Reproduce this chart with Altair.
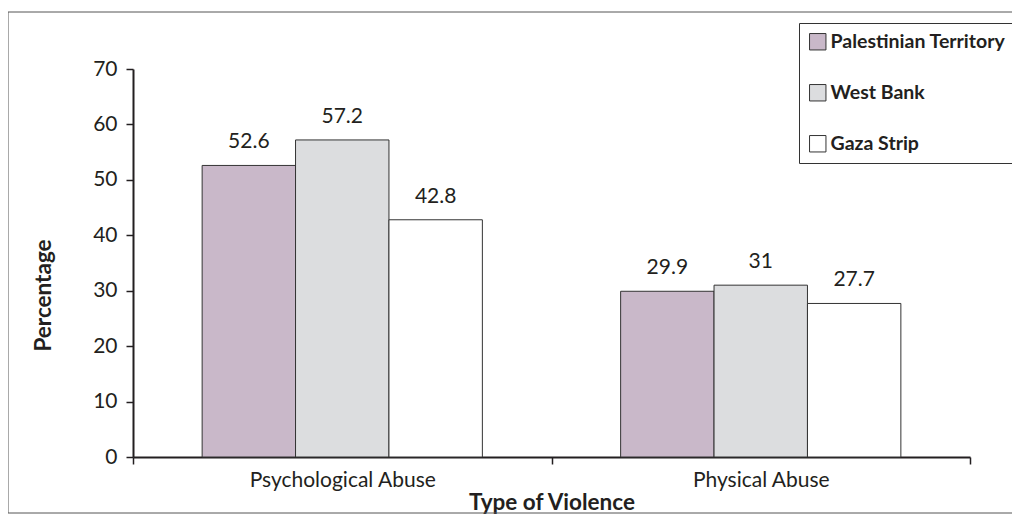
import altair as alt
import pandas as pd

categories = ["Psychological Abuse", "Physical Abuse"]
regions = ["Palestinian Territory", "West Bank", "Gaza Strip"]
psych_values = [52.6, 57.2, 42.8]
phys_values = [29.9, 31, 27.7]
colors = ["#c9b8c9", "#dcdddf", "#ffffff"]
y_ticks = [0, 10, 20, 30, 40, 50, 60, 70]

rows = []
for cat, vals in zip(categories, [psych_values, phys_values]):
    for reg, v in zip(regions, vals):
        rows.append({"cat": cat, "region": reg, "value": v, "label": f"{v:g}"})
df = pd.DataFrame(rows)

FONT = "Lato"
INK = "#231f20"

x_enc = alt.X(
    "cat:N",
    sort=categories,
    scale=alt.Scale(paddingInner=0, paddingOuter=0),
    axis=alt.Axis(
        title="Type of Violence",
        labelAngle=0,
        tickBand="extent",
        labelFontSize=21,
        labelPadding=5,
        labelLimit=400,
        titleFontSize=22.5,
        titleFontWeight="bold",
        titlePadding=1,
    ),
)
xo_enc = alt.XOffset(
    "region:N", sort=regions, scale=alt.Scale(paddingInner=0, paddingOuter=0.74)
)
y_enc = alt.Y(
    "value:Q",
    scale=alt.Scale(domain=[0, 70], nice=False),
    axis=alt.Axis(
        title="Percentage",
        values=y_ticks,
        grid=False,
        labelFontSize=21,
        labelPadding=9,
        titleFontSize=22.5,
        titleFontWeight="bold",
        titleAngle=270,
        titleAlign="center",
        titleBaseline="middle",
        titleX=-90,
        titleY=226,
    ),
)

bars = alt.Chart(df).mark_bar(stroke="#333333", strokeWidth=1).encode(
    x=x_enc,
    xOffset=xo_enc,
    y=y_enc,
    fill=alt.Fill(
        "region:N",
        sort=regions,
        scale=alt.Scale(domain=regions, range=colors),
        legend=alt.Legend(
            title=None,
            orient="none",
            legendX=666,
            legendY=-46,
            strokeColor="#333333",
            padding=9,
            rowPadding=30,
            symbolType="square",
            symbolSize=270,
            symbolStrokeColor="#333333",
            symbolStrokeWidth=1,
            labelFontSize=19.5,
            labelFontWeight="bold",
            labelOffset=3,
            labelLimit=400,
            labelColor=INK,
        ),
    ),
)

labels = alt.Chart(df).mark_text(
    baseline="alphabetic", dy=-17, fontSize=21, font=FONT, color=INK
).encode(x=alt.X("cat:N", sort=categories), xOffset=xo_enc, y="value:Q", text="label:N")

frame = alt.Chart(pd.DataFrame({"a": [0]})).mark_rect(
    fillOpacity=0, stroke="#555555", strokeWidth=1
).encode(x=alt.value(-125), x2=alt.value(900), y=alt.value(-57), y2=alt.value(444))

chart = (
    alt.layer(frame, bars, labels)
    .properties(
        width=837,
        height=388,
        autosize=alt.AutoSizeParams(type="none"),
        padding={"left": 125, "top": 61, "right": 42, "bottom": 57},
    )
    .configure_view(stroke=None)
    .configure_axis(
        labelFont=FONT,
        titleFont=FONT,
        labelColor=INK,
        titleColor=INK,
        domainColor=INK,
        domainWidth=2,
        tickColor=INK,
        tickWidth=1.5,
        tickSize=7,
    )
    .configure_legend(labelFont=FONT)
)

chart.save("out.html", embed_options={"renderer": "svg", "actions": False})
